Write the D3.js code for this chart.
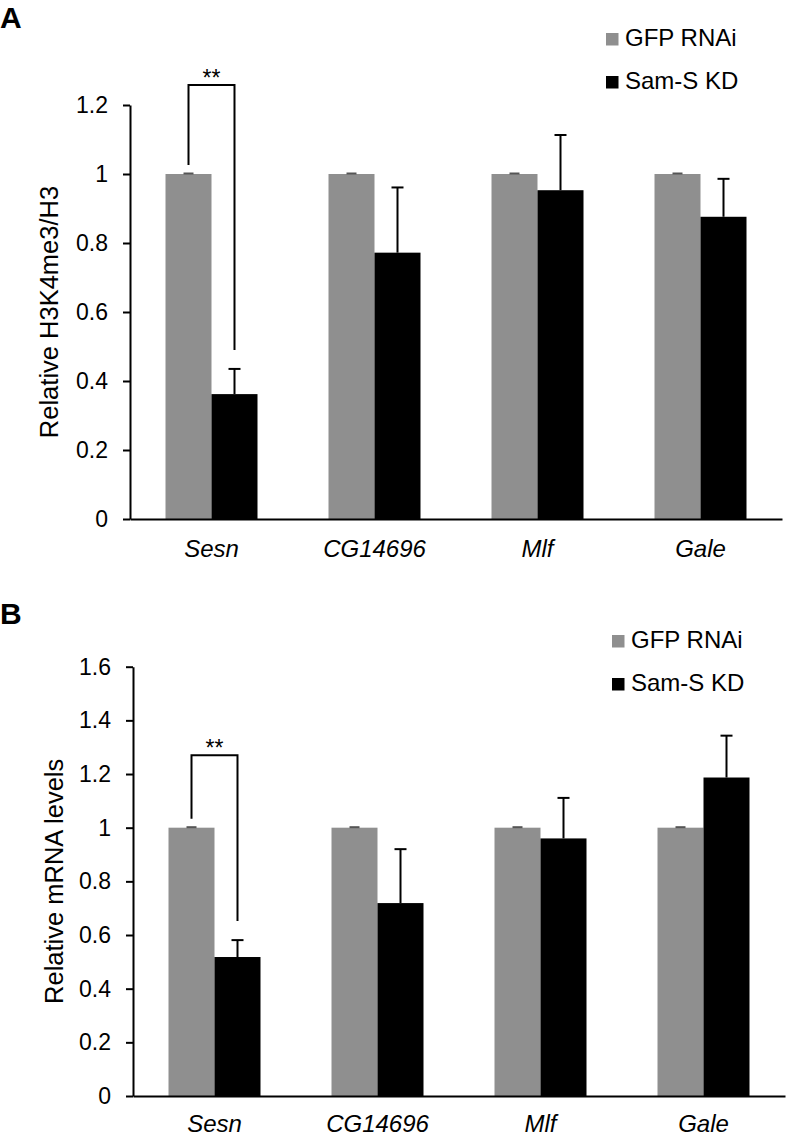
<!DOCTYPE html>
<html>
<head>
<meta charset="utf-8">
<script src="https://cdn.jsdelivr.net/npm/d3@7"></script>
<style>
  html, body { margin: 0; padding: 0; background: #fff; }
  svg { display: block; font-family: Arial, "Liberation Sans", sans-serif; }
</style>
</head>
<body>
<svg id="chart" width="788" height="1136"></svg>
<script>
// ---------- data ----------
const categories = ["Sesn", "CG14696", "Mlf", "Gale"];
const seriesNames = ["GFP RNAi", "Sam-S KD"];

// Panel A: Relative H3K4me3/H3
const aGfp = [1, 1, 1, 1];
const aGfpErr = [0, 0, 0, 0];
const aKd = [0.362, 0.772, 0.953, 0.876];
const aKdErr = [0.073, 0.189, 0.160, 0.110];
const aTicks = [0, 0.2, 0.4, 0.6, 0.8, 1, 1.2];
const aTickLabels = ["0", "0.2", "0.4", "0.6", "0.8", "1", "1.2"];

// Panel B: Relative mRNA levels
const bGfp = [1, 1, 1, 1];
const bGfpErr = [0, 0, 0, 0];
const bKd = [0.518, 0.719, 0.960, 1.187];
const bKdErr = [0.063, 0.201, 0.151, 0.156];
const bTicks = [0, 0.2, 0.4, 0.6, 0.8, 1, 1.2, 1.4, 1.6];
const bTickLabels = ["0", "0.2", "0.4", "0.6", "0.8", "1", "1.2", "1.4", "1.6"];

const sigCategory = "Sesn";
const sigLabel = "**";

// ---------- drawing ----------
const svg = d3.select("#chart");
const colors = ["#8f8f8f", "#000000"];

function drawPanel(cfg) {
  const g = svg.append("g");
  const x = d3.scaleBand().domain(categories).range([cfg.x0, cfg.x1])
    .paddingInner(0.4356).paddingOuter(0.2178);
  const xs = d3.scaleBand().domain(seriesNames).range([0, x.bandwidth()]);
  const y = d3.scaleLinear().domain([0, cfg.ticks[cfg.ticks.length - 1]]).range([cfg.yBottom, cfg.yTop]);

  const rows = [];
  categories.forEach((c, i) => {
    rows.push({cat: c, s: seriesNames[0], v: cfg.gfp[i], e: cfg.gfpErr[i], col: colors[0]});
    rows.push({cat: c, s: seriesNames[1], v: cfg.kd[i], e: cfg.kdErr[i], col: colors[1]});
  });

  // bars
  g.selectAll("rect.bar").data(rows).join("rect")
    .attr("class", "bar")
    .attr("x", d => x(d.cat) + xs(d.s))
    .attr("width", xs.bandwidth())
    .attr("y", d => y(d.v))
    .attr("height", d => y(0) - y(d.v))
    .attr("fill", d => d.col);

  // error bars
  const eb = g.selectAll("g.err").data(rows).join("g").attr("class", "err");
  eb.append("line")
    .attr("x1", d => x(d.cat) + xs(d.s) + xs.bandwidth() / 2)
    .attr("x2", d => x(d.cat) + xs(d.s) + xs.bandwidth() / 2)
    .attr("y1", d => y(d.v))
    .attr("y2", d => y(d.v + d.e))
    .attr("stroke", d => d.e > 0 ? "#000" : "none")
    .attr("stroke-width", 2);
  eb.append("line")
    .attr("x1", d => x(d.cat) + xs(d.s) + xs.bandwidth() / 2 - (d.e > 0 ? 6 : 5))
    .attr("x2", d => x(d.cat) + xs(d.s) + xs.bandwidth() / 2 + (d.e > 0 ? 6 : 5))
    .attr("y1", d => y(d.v + d.e) - (d.e > 0 ? 0 : 0.5))
    .attr("y2", d => y(d.v + d.e) - (d.e > 0 ? 0 : 0.5))
    .attr("stroke", d => d.e > 0 ? "#000" : "#555")
    .attr("stroke-width", 2);

  // y axis
  const yAxis = d3.axisLeft(y).tickValues(cfg.ticks)
    .tickFormat((d, i) => cfg.tickLabels[i])
    .tickSize(7).tickSizeOuter(0).tickPadding(15);
  const ya = g.append("g").attr("transform", `translate(${cfg.x0},0)`).call(yAxis);
  ya.select(".domain").attr("stroke", "#000").attr("stroke-width", 2);
  ya.selectAll(".tick line").attr("stroke", "#000").attr("stroke-width", 2);
  ya.selectAll(".tick text").attr("font-size", 23).attr("fill", "#000")
    .attr("font-family", "Arial, 'Liberation Sans', sans-serif");

  // x axis
  const xAxis = d3.axisBottom(x).tickSize(0).tickSizeOuter(0).tickPadding(0);
  const xa = g.append("g").attr("transform", `translate(0,${cfg.yBottom})`).call(xAxis);
  xa.select(".domain").attr("stroke", "#000").attr("stroke-width", 2);
  xa.selectAll(".tick text")
    .attr("font-size", 24).attr("font-style", "italic").attr("fill", "#000")
    .attr("font-family", "Arial, 'Liberation Sans', sans-serif")
    .attr("y", cfg.catY).attr("dy", 0);

  // y title
  g.append("text")
    .attr("transform", `translate(${cfg.titleX},${(cfg.yTop + cfg.yBottom) / 2}) rotate(-90)`)
    .attr("text-anchor", "middle")
    .attr("font-size", 25.5)
    .attr("fill", "#000")
    .text(cfg.title);

  // panel letter
  g.append("text").attr("x", 0).attr("y", cfg.letterY)
    .attr("font-size", 30).attr("font-weight", "bold").attr("fill", "#000")
    .text(cfg.letter);

  // legend
  seriesNames.forEach((s, i) => {
    const ly = cfg.legendY + i * cfg.legendGap;
    g.append("rect").attr("x", cfg.legendX).attr("y", ly - 13)
      .attr("width", 12.5).attr("height", 12.5).attr("fill", colors[i]);
    g.append("text").attr("x", cfg.legendX + 19).attr("y", ly)
      .attr("font-size", 24).attr("fill", "#000").text(s);
  });

  // significance bracket
  const si = categories.indexOf(sigCategory);
  const xl = x(sigCategory) + xs(seriesNames[0]) + xs.bandwidth() / 2;
  const xr = x(sigCategory) + xs(seriesNames[1]) + xs.bandwidth() / 2;
  const top = y(cfg.bracketTop);
  const yl = y(cfg.gfp[si] + cfg.gfpErr[si]) - 9;
  const yr = y(cfg.kd[si] + cfg.kdErr[si]) - 19;
  g.append("path")
    .attr("d", `M${xl},${yl}V${top}H${xr}V${yr}`)
    .attr("fill", "none").attr("stroke", "#000").attr("stroke-width", 2);
  g.append("text").attr("x", (xl + xr) / 2).attr("y", top + 1)
    .attr("text-anchor", "middle").attr("font-size", 23).attr("fill", "#000")
    .text(sigLabel);
}

drawPanel({
  letter: "A", letterY: 28,
  x0: 130, x1: 782, yTop: 105, yBottom: 519,
  ticks: aTicks, tickLabels: aTickLabels,
  gfp: aGfp, gfpErr: aGfpErr, kd: aKd, kdErr: aKdErr,
  title: "Relative H3K4me3/H3", titleX: 58, catY: 38,
  legendX: 606, legendY: 46, legendGap: 43,
  bracketTop: 1.258
});

drawPanel({
  letter: "B", letterY: 624,
  x0: 133, x1: 785, yTop: 666.7, yBottom: 1096,
  ticks: bTicks, tickLabels: bTickLabels,
  gfp: bGfp, gfpErr: bGfpErr, kd: bKd, kdErr: bKdErr,
  title: "Relative mRNA levels", titleX: 63, catY: 36,
  legendX: 612, legendY: 648, legendGap: 43,
  bracketTop: 1.27
});
</script>
</body>
</html>
